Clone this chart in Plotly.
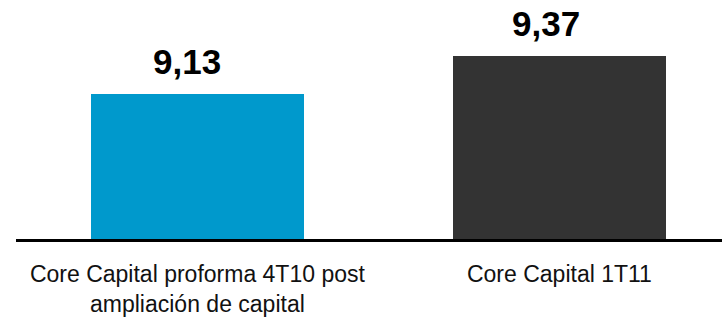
import plotly.graph_objects as go

# Core Capital ratio (%) before and after the capital increase
categories = ["Core Capital proforma 4T10 post<br>ampliación de capital", "Core Capital 1T11"]
values = [9.13, 9.37]
bar_colors = ["#0099CC", "#333333"]

FONT = "Liberation Sans, Arial, Helvetica, sans-serif"

fig = go.Figure(
    go.Bar(
        x=categories,
        y=values,
        width=0.59,
        marker=dict(color=bar_colors, line=dict(width=0)),
        hoverinfo="x+y",
    )
)

# Value labels above each bar, using a decimal comma
for cat, val, dx in zip(categories, values, (-10, -13)):
    fig.add_annotation(
        x=cat,
        y=val,
        text="<b>" + f"{val:.2f}".replace(".", ",") + "</b>",
        showarrow=False,
        yanchor="bottom",
        yshift=11,
        xshift=dx,
        font=dict(family=FONT, size=35, color="#000000"),
    )

fig.update_layout(
    width=722,
    height=320,
    margin=dict(l=16, r=0, t=0, b=81),
    paper_bgcolor="white",
    plot_bgcolor="white",
    separators=",.",
    showlegend=False,
    bargap=0,
)

fig.update_xaxes(
    range=[-0.501, 1.449],
    showline=True,
    linecolor="#000000",
    linewidth=2.5,
    showgrid=False,
    zeroline=False,
    ticks="",
    ticklabelstandoff=13,
    tickfont=dict(family=FONT, size=23, color="#111111"),
)

fig.update_yaxes(
    range=[8.229, 9.716],
    visible=False,
    showgrid=False,
    zeroline=False,
)

fig.write_html("out.html")
